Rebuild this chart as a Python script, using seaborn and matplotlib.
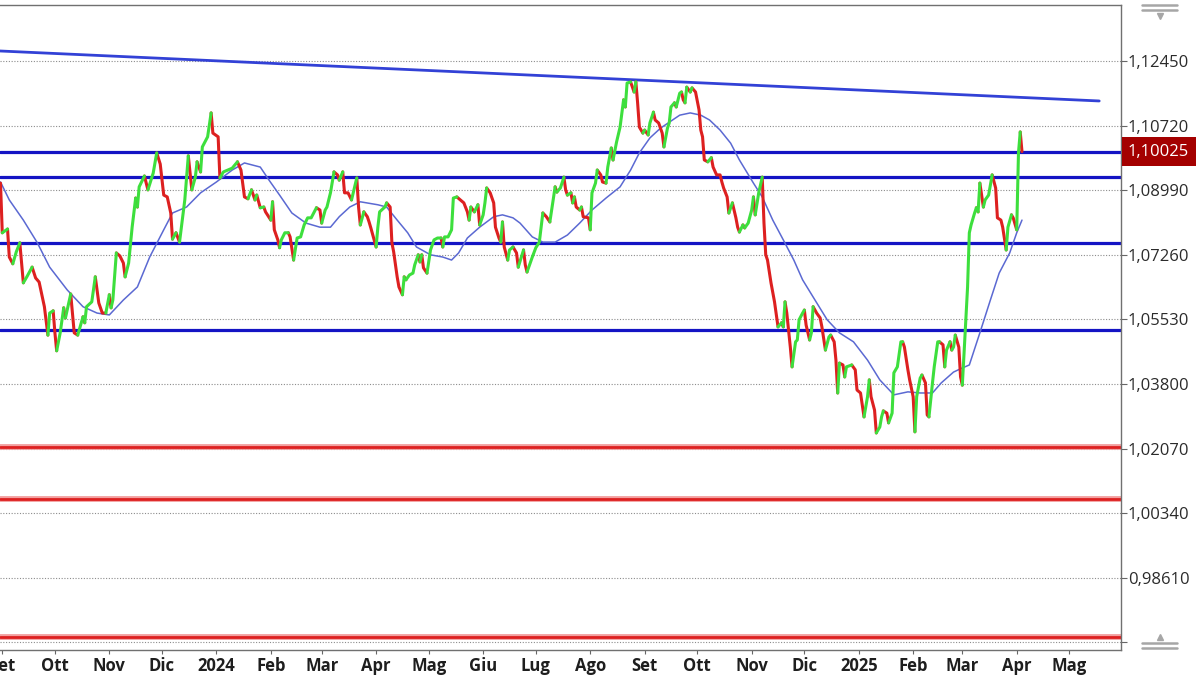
import numpy as np
import pandas as pd
import matplotlib
matplotlib.use("Agg")
import matplotlib.pyplot as plt
import matplotlib.transforms as mtransforms
from matplotlib.lines import Line2D
import seaborn as sns

# ---- data -------------------------------------------------------------------
# daily closes (turning points of the line)
price_dates = [
    "2023-08-31", "2023-09-01", "2023-09-04", "2023-09-05", "2023-09-07", "2023-09-09",
    "2023-09-11", "2023-09-13", "2023-09-15", "2023-09-18", "2023-09-20", "2023-09-22",
    "2023-09-25", "2023-09-27", "2023-09-28", "2023-09-30",
    "2023-10-01", "2023-10-02", "2023-10-04", "2023-10-06", "2023-10-07", "2023-10-10",
    "2023-10-12", "2023-10-14", "2023-10-17", "2023-10-18", "2023-10-19", "2023-10-22",
    "2023-10-24", "2023-10-26", "2023-10-28", "2023-10-30",
    "2023-11-01", "2023-11-02", "2023-11-03", "2023-11-05", "2023-11-07", "2023-11-09",
    "2023-11-10", "2023-11-12", "2023-11-14", "2023-11-16", "2023-11-17", "2023-11-18",
    "2023-11-21", "2023-11-23", "2023-11-26", "2023-11-28", "2023-11-30",
    "2023-12-02", "2023-12-04", "2023-12-06", "2023-12-07", "2023-12-09", "2023-12-11",
    "2023-12-14", "2023-12-16", "2023-12-18", "2023-12-20", "2023-12-21", "2023-12-23",
    "2023-12-24", "2023-12-27", "2023-12-29", "2023-12-30",
    "2024-01-02", "2024-01-03", "2024-01-05", "2024-01-10", "2024-01-13", "2024-01-15",
    "2024-01-17", "2024-01-19", "2024-01-21", "2024-01-23", "2024-01-24", "2024-01-26",
    "2024-01-28", "2024-01-29",
    "2024-02-01", "2024-02-02", "2024-02-03", "2024-02-05", "2024-02-06", "2024-02-07",
    "2024-02-09", "2024-02-11", "2024-02-12", "2024-02-14", "2024-02-16", "2024-02-18",
    "2024-02-20", "2024-02-22", "2024-02-24", "2024-02-27", "2024-02-29",
    "2024-03-01", "2024-03-03", "2024-03-04", "2024-03-06", "2024-03-08", "2024-03-10",
    "2024-03-11", "2024-03-13", "2024-03-14", "2024-03-16", "2024-03-18", "2024-03-21",
    "2024-03-22", "2024-03-23", "2024-03-25", "2024-03-27", "2024-03-28", "2024-03-29",
    "2024-04-01", "2024-04-02", "2024-04-03", "2024-04-06", "2024-04-07", "2024-04-09",
    "2024-04-10", "2024-04-11", "2024-04-13", "2024-04-14", "2024-04-16", "2024-04-17",
    "2024-04-18", "2024-04-20", "2024-04-22", "2024-04-23", "2024-04-25", "2024-04-26",
    "2024-04-27", "2024-04-28", "2024-04-30",
    "2024-05-02", "2024-05-04", "2024-05-06", "2024-05-08", "2024-05-09", "2024-05-10",
    "2024-05-12", "2024-05-14", "2024-05-15", "2024-05-17", "2024-05-19", "2024-05-21",
    "2024-05-23", "2024-05-24", "2024-05-25", "2024-05-27", "2024-05-29", "2024-05-30",
    "2024-06-01", "2024-06-02", "2024-06-03", "2024-06-05", "2024-06-07", "2024-06-08",
    "2024-06-10", "2024-06-11", "2024-06-12", "2024-06-13", "2024-06-15", "2024-06-16",
    "2024-06-18", "2024-06-20", "2024-06-21", "2024-06-24", "2024-06-25", "2024-06-26",
    "2024-06-29",
    "2024-07-01", "2024-07-03", "2024-07-05", "2024-07-07", "2024-07-09", "2024-07-12",
    "2024-07-13", "2024-07-15", "2024-07-17", "2024-07-18", "2024-07-19", "2024-07-21",
    "2024-07-22", "2024-07-23", "2024-07-24", "2024-07-26", "2024-07-27", "2024-07-28",
    "2024-07-31",
    "2024-08-01", "2024-08-02", "2024-08-04", "2024-08-05", "2024-08-07", "2024-08-08",
    "2024-08-10", "2024-08-11", "2024-08-13", "2024-08-14", "2024-08-16", "2024-08-18",
    "2024-08-20", "2024-08-21", "2024-08-22", "2024-08-24", "2024-08-26", "2024-08-27",
    "2024-08-28", "2024-08-29", "2024-08-31",
    "2024-09-01", "2024-09-03", "2024-09-04", "2024-09-06", "2024-09-07", "2024-09-09",
    "2024-09-11", "2024-09-12", "2024-09-14", "2024-09-15", "2024-09-16", "2024-09-18",
    "2024-09-19", "2024-09-21", "2024-09-22", "2024-09-23", "2024-09-24", "2024-09-25",
    "2024-09-27", "2024-09-28", "2024-09-30",
    "2024-10-02", "2024-10-03", "2024-10-04", "2024-10-05", "2024-10-07", "2024-10-09",
    "2024-10-10", "2024-10-12", "2024-10-14", "2024-10-15", "2024-10-16", "2024-10-18",
    "2024-10-19", "2024-10-21", "2024-10-23", "2024-10-24", "2024-10-25", "2024-10-27",
    "2024-10-28", "2024-10-30",
    "2024-11-01", "2024-11-02", "2024-11-03", "2024-11-05", "2024-11-07", "2024-11-08",
    "2024-11-09", "2024-11-10", "2024-11-12", "2024-11-14", "2024-11-16", "2024-11-18",
    "2024-11-19", "2024-11-20", "2024-11-21", "2024-11-23", "2024-11-24", "2024-11-26",
    "2024-11-27", "2024-11-28", "2024-11-30",
    "2024-12-01", "2024-12-02", "2024-12-04", "2024-12-05", "2024-12-06", "2024-12-08",
    "2024-12-10", "2024-12-11", "2024-12-13", "2024-12-15", "2024-12-16", "2024-12-18",
    "2024-12-19", "2024-12-20", "2024-12-21", "2024-12-23", "2024-12-24", "2024-12-25",
    "2024-12-28", "2024-12-30", "2024-12-31",
    "2025-01-02", "2025-01-04", "2025-01-05", "2025-01-06", "2025-01-07", "2025-01-08",
    "2025-01-10", "2025-01-11", "2025-01-13", "2025-01-14", "2025-01-15", "2025-01-17",
    "2025-01-18", "2025-01-20", "2025-01-21", "2025-01-23", "2025-01-25", "2025-01-26",
    "2025-01-27", "2025-01-29", "2025-01-30",
    "2025-02-01", "2025-02-02", "2025-02-03", "2025-02-05", "2025-02-06", "2025-02-08",
    "2025-02-09", "2025-02-10", "2025-02-11", "2025-02-12", "2025-02-13", "2025-02-15",
    "2025-02-16", "2025-02-18", "2025-02-19", "2025-02-20", "2025-02-22", "2025-02-23",
    "2025-02-24", "2025-02-25", "2025-02-27", "2025-02-28",
    "2025-03-01", "2025-03-02", "2025-03-04", "2025-03-05", "2025-03-06", "2025-03-08",
    "2025-03-09", "2025-03-10", "2025-03-11", "2025-03-13", "2025-03-14", "2025-03-16",
    "2025-03-18", "2025-03-20", "2025-03-21", "2025-03-23", "2025-03-24", "2025-03-26",
    "2025-03-27", "2025-03-29", "2025-03-30",
    "2025-04-01", "2025-04-02", "2025-04-03", "2025-04-04",
]
price_values = [
    1.0918, 1.0785, 1.0795, 1.0720, 1.0702, 1.0734,
    1.0758, 1.0651, 1.0667, 1.0693, 1.0664, 1.0653,
    1.0587, 1.0511, 1.0570, 1.0576,
    1.0517, 1.0469, 1.0517, 1.0584, 1.0557, 1.0621,
    1.0517, 1.0511, 1.0560, 1.0544, 1.0587, 1.0600,
    1.0667, 1.0597, 1.0570, 1.0570,
    1.0619, 1.0584, 1.0605, 1.0731, 1.0723, 1.0704,
    1.0667, 1.0704, 1.0800, 1.0878, 1.0854, 1.0908,
    1.0937, 1.0900, 1.0945, 1.0999, 1.0969,
    1.0886, 1.0881, 1.0838, 1.0768, 1.0785, 1.0760,
    1.0873, 1.0991, 1.0900, 1.0934, 1.0975, 1.0948,
    1.1015, 1.1042, 1.1106, 1.1052,
    1.1042, 1.0932, 1.0948, 1.0958, 1.0975, 1.0953,
    1.0881, 1.0876, 1.0900, 1.0873, 1.0886, 1.0852,
    1.0854, 1.0841,
    1.0819, 1.0868, 1.0793, 1.0766, 1.0745, 1.0766,
    1.0785, 1.0785, 1.0774, 1.0712, 1.0771, 1.0774,
    1.0806, 1.0825, 1.0825, 1.0852, 1.0846,
    1.0811, 1.0846, 1.0854, 1.0892, 1.0948, 1.0940,
    1.0926, 1.0948, 1.0892, 1.0892, 1.0873, 1.0932,
    1.0854, 1.0806, 1.0841, 1.0828, 1.0814, 1.0798,
    1.0747, 1.0800, 1.0841, 1.0854, 1.0865, 1.0854,
    1.0758, 1.0734, 1.0667, 1.0640, 1.0619, 1.0667,
    1.0659, 1.0672, 1.0677, 1.0699, 1.0726, 1.0707,
    1.0726, 1.0691, 1.0677,
    1.0739, 1.0766, 1.0771, 1.0771, 1.0747, 1.0774,
    1.0774, 1.0793, 1.0878, 1.0881, 1.0873, 1.0865,
    1.0841, 1.0819, 1.0854, 1.0841, 1.0860, 1.0806,
    1.0833, 1.0865, 1.0905, 1.0892, 1.0865, 1.0800,
    1.0771, 1.0760, 1.0814, 1.0747, 1.0712, 1.0739,
    1.0747, 1.0731, 1.0693, 1.0739, 1.0699, 1.0680,
    1.0720,
    1.0745, 1.0760, 1.0838, 1.0828, 1.0814, 1.0908,
    1.0894, 1.0905, 1.0934, 1.0900, 1.0886, 1.0892,
    1.0865, 1.0881, 1.0854, 1.0846, 1.0854, 1.0828,
    1.0825,
    1.0793, 1.0892, 1.0918, 1.0953, 1.0940, 1.0921,
    1.0918, 1.0961, 1.1012, 1.0980, 1.1028, 1.1068,
    1.1141, 1.1122, 1.1186, 1.1189, 1.1162, 1.1189,
    1.1133, 1.1068, 1.1052,
    1.1060, 1.1047, 1.1079, 1.1108, 1.1087, 1.1079,
    1.1052, 1.1015, 1.1065, 1.1079, 1.1122, 1.1133,
    1.1122, 1.1159, 1.1162, 1.1141, 1.1133, 1.1175,
    1.1162, 1.1173, 1.1162,
    1.1114, 1.1060, 1.1042, 1.0980, 1.0975, 1.0986,
    1.0961, 1.0940, 1.0940, 1.0921, 1.0905, 1.0881,
    1.0838, 1.0865, 1.0825, 1.0800, 1.0787, 1.0806,
    1.0798, 1.0811,
    1.0846, 1.0881, 1.0833, 1.0892, 1.0934, 1.0811,
    1.0726, 1.0712, 1.0651, 1.0600, 1.0533, 1.0544,
    1.0533, 1.0600, 1.0570, 1.0479, 1.0426, 1.0493,
    1.0498, 1.0552, 1.0570,
    1.0578, 1.0538, 1.0498, 1.0517, 1.0587, 1.0570,
    1.0557, 1.0533, 1.0471, 1.0506, 1.0511, 1.0493,
    1.0444, 1.0356, 1.0436, 1.0431, 1.0399, 1.0426,
    1.0431, 1.0418, 1.0364,
    1.0356, 1.0292, 1.0319, 1.0346, 1.0391, 1.0346,
    1.0310, 1.0249, 1.0265, 1.0292, 1.0308, 1.0302,
    1.0276, 1.0302, 1.0410, 1.0426, 1.0493, 1.0493,
    1.0479, 1.0418, 1.0391,
    1.0346, 1.0252, 1.0346, 1.0396, 1.0404, 1.0383,
    1.0297, 1.0292, 1.0337, 1.0383, 1.0426, 1.0493,
    1.0493, 1.0485, 1.0426, 1.0471, 1.0493, 1.0471,
    1.0479, 1.0511, 1.0479, 1.0399,
    1.0377, 1.0463, 1.0640, 1.0785, 1.0806, 1.0838,
    1.0852, 1.0841, 1.0918, 1.0854, 1.0873, 1.0886,
    1.0940, 1.0905, 1.0825, 1.0819, 1.0800, 1.0739,
    1.0800, 1.0833, 1.0825,
    1.0793, 1.0999, 1.1055, 1.10025,
]

# thin moving average
ma_dates = [
    "2023-08-31", "2023-09-05", "2023-09-13", "2023-09-21", "2023-09-28", "2023-10-08",
    "2023-10-17", "2023-10-25", "2023-11-01", "2023-11-09", "2023-11-17", "2023-11-24",
    "2023-12-02", "2023-12-07", "2023-12-15", "2023-12-23", "2024-01-01", "2024-01-10",
    "2024-01-17", "2024-01-26", "2024-01-31", "2024-02-06", "2024-02-13", "2024-02-21",
    "2024-02-29", "2024-03-06", "2024-03-11", "2024-03-17", "2024-03-23", "2024-04-02",
    "2024-04-07", "2024-04-13", "2024-04-19", "2024-04-24", "2024-05-02", "2024-05-09",
    "2024-05-14", "2024-05-18", "2024-05-23", "2024-05-30", "2024-06-07", "2024-06-12",
    "2024-06-18", "2024-06-22", "2024-06-29", "2024-07-05", "2024-07-12", "2024-07-19",
    "2024-07-26", "2024-08-02", "2024-08-10", "2024-08-18", "2024-08-24", "2024-08-29",
    "2024-09-04", "2024-09-10", "2024-09-15", "2024-09-21", "2024-09-27", "2024-10-03",
    "2024-10-08", "2024-10-14", "2024-10-20", "2024-10-25", "2024-11-02", "2024-11-07",
    "2024-11-13", "2024-11-19", "2024-11-25", "2024-11-30", "2024-12-06", "2024-12-14",
    "2024-12-21", "2024-12-29", "2025-01-06", "2025-01-13", "2025-01-21", "2025-01-29",
    "2025-02-05", "2025-02-12", "2025-02-17", "2025-02-24", "2025-03-01", "2025-03-05",
    "2025-03-11", "2025-03-17", "2025-03-22", "2025-03-28", "2025-04-01", "2025-04-04",
]
ma_values = [
    1.0921, 1.0873, 1.0819, 1.0758, 1.0693, 1.0632,
    1.0587, 1.0570, 1.0565, 1.0605, 1.0640, 1.0720,
    1.0793, 1.0838, 1.0854, 1.0892, 1.0921, 1.0953,
    1.0972, 1.0961, 1.0926, 1.0886, 1.0838, 1.0811,
    1.0800, 1.0800, 1.0828, 1.0854, 1.0868, 1.0860,
    1.0854, 1.0819, 1.0785, 1.0747, 1.0726, 1.0720,
    1.0712, 1.0731, 1.0771, 1.0800, 1.0828, 1.0833,
    1.0825, 1.0811, 1.0774, 1.0760, 1.0760, 1.0779,
    1.0811, 1.0846, 1.0878, 1.0908, 1.0953, 1.0999,
    1.1039, 1.1065, 1.1081, 1.1100, 1.1106, 1.1100,
    1.1087, 1.1060, 1.1025, 1.0980, 1.0918, 1.0881,
    1.0819, 1.0766, 1.0712, 1.0659, 1.0613, 1.0552,
    1.0517, 1.0493, 1.0444, 1.0391, 1.0351, 1.0359,
    1.0356, 1.0356, 1.0383, 1.0412, 1.0423, 1.0431,
    1.0517, 1.0605, 1.0677, 1.0731, 1.0785, 1.0819,
]

# descending trend line
trend_dates = ["2023-08-30", "2025-05-18"]
trend_values = [1.1272, 1.1138]

# horizontal levels
blue_levels = [1.1002, 1.0935, 1.0758, 1.0524]
red_levels = [1.0212, 1.0071, 0.9703]
last_price = 1.10025
last_label = "1,10025"

y_ticks = [0.96880, 0.98610, 1.00340, 1.02070, 1.03800,
           1.05530, 1.07260, 1.08990, 1.10720, 1.12450]
y_tick_labels = ["", "0,98610", "1,00340", "1,02070", "1,03800",
                 "1,05530", "1,07260", "1,08990", "1,10720", "1,12450"]
x_tick_labels = ["Set", "Ott", "Nov", "Dic", "2024", "Feb", "Mar", "Apr", "Mag",
                 "Giu", "Lug", "Ago", "Set", "Ott", "Nov", "Dic", "2025", "Feb",
                 "Mar", "Apr", "Mag"]

# ---- style ------------------------------------------------------------------
sns.set_style("white")
plt.rcParams["font.family"] = ["Open Sans", "DejaVu Sans"]

GREEN = "#3ddf3d"
RED = "#dd2020"
NAVY = "#1414c4"
TREND = "#3241d6"
MA_COL = "#5b69d2"

# price line split into runs of rising / falling closes
dates = pd.to_datetime(price_dates)
vals = np.array(price_values)
rows = []
run = 0
prev = None
for i in range(len(vals) - 1):
    if vals[i + 1] > vals[i]:
        d = "up"
    elif vals[i + 1] < vals[i]:
        d = "down"
    else:
        d = prev or "down"
    if d != prev:
        run += 1
        rows.append((run, d, dates[i], vals[i]))
    rows.append((run, d, dates[i + 1], vals[i + 1]))
    prev = d
seg = pd.DataFrame(rows, columns=["run", "dir", "date", "value"])

ma = pd.DataFrame({"date": pd.to_datetime(ma_dates), "value": ma_values})
trend = pd.DataFrame({"date": pd.to_datetime(trend_dates), "value": trend_values})

fig = plt.figure(figsize=(12, 6.75), dpi=100)
ax = fig.add_axes([0, 1 - 650 / 675, 1121 / 1200, 645 / 675])

# levels
for lv in blue_levels:
    ax.axhline(lv, color=NAVY, lw=2.3, zorder=2)
for lv in red_levels:
    ax.axhline(lv, color="#f2a0a0", lw=4.2, zorder=2)
    ax.axhline(lv, color=RED, lw=2.0, zorder=2)

sns.lineplot(data=trend, x="date", y="value", color=TREND, lw=2.0, ax=ax, zorder=3)
sns.lineplot(data=ma, x="date", y="value", color=MA_COL, lw=1.1, ax=ax, zorder=3)
sns.lineplot(data=seg, x="date", y="value", hue="dir", units="run",
             estimator=None, sort=False, palette={"up": GREEN, "down": RED},
             lw=2.2, legend=False, ax=ax, zorder=4,
             solid_joinstyle="round", solid_capstyle="round")

# axes
ax.set_xlim(pd.Timestamp("2023-08-30 17:00"), pd.Timestamp("2025-05-30 10:00"))
ax.set_ylim(0.96677, 1.1395)
ax.set_xlabel("")
ax.set_ylabel("")

ax.yaxis.tick_right()
ax.set_yticks(y_ticks, y_tick_labels)
ax.tick_params(axis="y", right=True, left=False, length=4, width=0.8, color="#666666",
               labelsize=12, labelcolor="#2b2b2b", pad=1)

month_starts = pd.date_range("2023-09-01", "2025-05-01", freq="MS")
ax.set_xticks(month_starts, x_tick_labels)
ax.tick_params(axis="x", bottom=True, length=3, width=0.8, color="#666666",
               labelsize=12, labelcolor="#1e1e1e", pad=2)
for lab in ax.get_xticklabels():
    lab.set_fontweight("bold")

ax.grid(axis="y", color="#8c8c8c", lw=0.8, ls=(0, (1, 1.5)))
ax.grid(axis="x", visible=False)
ax.set_axisbelow(True)

for side in ["top", "right", "bottom"]:
    ax.spines[side].set_color("#707070")
    ax.spines[side].set_linewidth(1.0)
ax.spines["left"].set_visible(False)

# last price tag on the right axis
tr = mtransforms.blended_transform_factory(ax.transAxes, ax.transData)
tr = mtransforms.offset_copy(tr, fig=fig, x=7, y=0, units="dots")
ax.text(1.0, last_price, last_label, transform=tr, ha="left", va="center",
        color="white", fontsize=12, clip_on=False, zorder=6,
        bbox=dict(boxstyle="square,pad=0.38", fc="#a40000", ec="none"))

# small scroll handles at top and bottom right
def px(x, y):
    return x / 1200, 1 - y / 675

for y in (5, 9.5):
    (x0, y0), (x1, y1) = px(1142, y), px(1177, y)
    fig.add_artist(Line2D([x0, x1], [y0, y1], transform=fig.transFigure,
                          color="#a6a6a6", lw=1.8))
tx, ty = px(1159.5, 16)
fig.add_artist(Line2D([tx], [ty], transform=fig.transFigure, marker="v",
                      markersize=5, color="#a6a6a6", ls="none"))
for y in (643, 648):
    (x0, y0), (x1, y1) = px(1142, y), px(1177, y)
    fig.add_artist(Line2D([x0, x1], [y0, y1], transform=fig.transFigure,
                          color="#a6a6a6", lw=1.8))
tx, ty = px(1159.5, 637)
fig.add_artist(Line2D([tx], [ty], transform=fig.transFigure, marker="^",
                      markersize=5, color="#a6a6a6", ls="none"))

fig.savefig("out.png", dpi=100)
